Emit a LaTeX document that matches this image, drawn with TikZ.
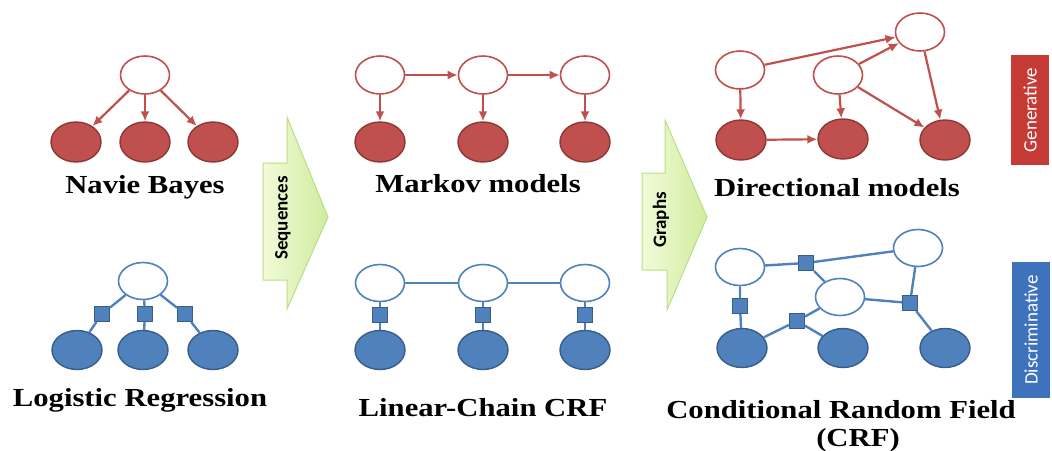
\documentclass[tikz,border=0pt]{standalone}
\usepackage{fontspec}
\setmainfont{Liberation Serif}
\newfontfamily\calibri{Carlito}
\newfontfamily\lblfont[FakeStretch=1.18]{Liberation Serif}
\usetikzlibrary{shapes.geometric,arrows.meta}
\definecolor{genred}{HTML}{C0504D}
\definecolor{genredline}{HTML}{8C3836}
\definecolor{genbox}{HTML}{C63A36}
\definecolor{disblue}{HTML}{4F81BD}
\definecolor{disblueline}{HTML}{385D8A}
\definecolor{disbox}{HTML}{3E72BD}
\definecolor{arrowlight}{HTML}{F2FBD8}
\definecolor{arrowdark}{HTML}{CFEC9E}
\definecolor{arrowedge}{HTML}{B9DF86}
\begin{document}
\begin{tikzpicture}[x=1pt,y=-1pt,>={Latex[length=10pt,width=9pt]},
  rhid/.style={ellipse,draw=genred,line width=1.6pt,fill=white,minimum width=49pt,minimum height=38pt,inner sep=0pt},
  robs/.style={ellipse,draw=genredline,line width=1.4pt,fill=genred,minimum width=50pt,minimum height=40pt,inner sep=0pt},
  bhid/.style={ellipse,draw=disblue,line width=1.6pt,fill=white,minimum width=49pt,minimum height=37pt,inner sep=0pt},
  bobs/.style={ellipse,draw=disblueline,line width=1.4pt,fill=disblue,minimum width=50pt,minimum height=39pt,inner sep=0pt},
  factor/.style={rectangle,draw=disblueline,line width=1pt,fill=disblue,minimum size=15pt,inner sep=0pt},
  rarr/.style={->,draw=genred,line width=2.2pt},
  bline/.style={draw=disblue,line width=2.4pt},
  lbl/.style={font=\lblfont\fontsize{26}{28}\selectfont\bfseries,inner sep=0pt},
  blockarr/.style={draw=arrowedge,line width=1pt,left color=arrowlight,right color=arrowdark},
  sidebox/.style={minimum height=38pt,inner sep=0pt,text=white,font=\calibri\fontsize{19}{21}\selectfont,rotate=90}]
\useasboundingbox (0,0) rectangle (1052,450);

% Naive Bayes
\node[rhid] (nbTop) at (145,75) {};
\node[robs] (nbL) at (76,142) {};
\node[robs] (nbM) at (145,142) {};
\node[robs] (nbR) at (213,142) {};
\draw[rarr] (nbTop) -- (nbL);
\draw[rarr] (nbTop) -- (nbM);
\draw[rarr] (nbTop) -- (nbR);
\node[lbl] (nbLbl) at (145,187) {Navie Bayes};

% Logistic Regression
\node[bhid] (lrTop) at (143,281) {};
\node[factor] (lrFl) at (102,314) {};
\node[factor] (lrFm) at (145,314) {};
\node[factor] (lrFr) at (185,314) {};
\node[bobs] (lrL) at (77,350) {};
\node[bobs] (lrM) at (143,350) {};
\node[bobs] (lrR) at (213,350) {};
\draw[bline] (lrTop) -- (lrFl) -- (lrL);
\draw[bline] (lrTop) -- (lrFm) -- (lrM);
\draw[bline] (lrTop) -- (lrFr) -- (lrR);
\node[lbl] (lrLbl) at (140,400) {Logistic Regression};

% Markov models
\foreach \n/\x in {A/380,B/483,C/585}{
  \node[rhid] (mm\n) at (\x,75) {};
  \node[robs] (mmo\n) at (\x,142) {};
  \draw[rarr] (mm\n) -- (mmo\n);
}
\draw[rarr] (mmA) -- (mmB);
\draw[rarr] (mmB) -- (mmC);
\node[lbl] (mmLbl) at (478,184) {Markov models};

% Linear-chain CRF
\foreach \n/\x in {A/380,B/483,C/585}{
  \node[bhid] (lc\n) at (\x,283) {};
  \node[factor] (lcf\n) at (\x,315) {};
  \node[bobs] (lco\n) at (\x,350) {};
  \draw[bline] (lc\n) -- (lcf\n) -- (lco\n);
}
\draw[bline] (lcA) -- (lcB) -- (lcC);
\node[lbl] (lcLbl) at (483,408) {Linear-Chain CRF};

% Directional models
\node[rhid] (dmA) at (740,70) {};
\node[rhid] (dmB) at (838,75) {};
\node[rhid] (dmC) at (920,32) {};
\node[robs] (dmD) at (741,140) {};
\node[robs] (dmE) at (843,139) {};
\node[robs] (dmF) at (945,140) {};
\draw[rarr] (dmA) -- (dmC);
\draw[rarr] (dmB) -- (dmC);
\draw[rarr] (dmA) -- (dmD);
\draw[rarr] (dmB) -- (dmE);
\draw[rarr] (dmB) -- (dmF);
\draw[rarr] (dmC) -- (dmF);
\draw[rarr] (dmD) -- (dmE);
\node[lbl] (dmLbl) at (837,188) {Directional models};

% Conditional random field
\node[bhid] (crA) at (740,267) {};
\node[bhid] (crB) at (840,297) {};
\node[bhid] (crC) at (918,248) {};
\node[bobs] (crD) at (742,348) {};
\node[bobs] (crE) at (843,348) {};
\node[bobs] (crF) at (945,348) {};
\node[factor] (crF1) at (806,263) {};
\node[factor] (crF2) at (740,306) {};
\node[factor] (crF3) at (797,321) {};
\node[factor] (crF4) at (910,303) {};
\draw[bline] (crA) -- (crF1) -- (crC);
\draw[bline] (crF1) -- (crB);
\draw[bline] (crA) -- (crF2) -- (crD);
\draw[bline] (crD) -- (crF3) -- (crE);
\draw[bline] (crF3) -- (crB);
\draw[bline] (crB) -- (crF4) -- (crC);
\draw[bline] (crF4) -- (crF);
\node[lbl,anchor=base] (crLbl) at (841,418) {Conditional Random Field};
\node[lbl,anchor=north] (crLblb) at (858,428) {(CRF)};

% block arrows
\draw[blockarr] (263,163) -- (287,163) -- (287,117) -- (328,217) -- (287,309) -- (287,280) -- (263,280) -- cycle;
\node[rotate=90,font=\calibri\bfseries\fontsize{19}{21}\selectfont] (seqLbl) at (283,218) {Sequences};
\draw[blockarr] (642,173) -- (665,173) -- (665,120) -- (707,217) -- (667,310) -- (667,270) -- (642,270) -- cycle;
\node[rotate=90,font=\calibri\bfseries\fontsize{19}{21}\selectfont] (grLbl) at (661,220) {Graphs};

% side labels
\node[sidebox,fill=genbox,minimum width=110pt] (genBox) at (1030,110) {Generative};
\node[sidebox,fill=disbox,minimum width=136pt] (disBox) at (1031,330) {Discriminative};
\end{tikzpicture}
\end{document}
